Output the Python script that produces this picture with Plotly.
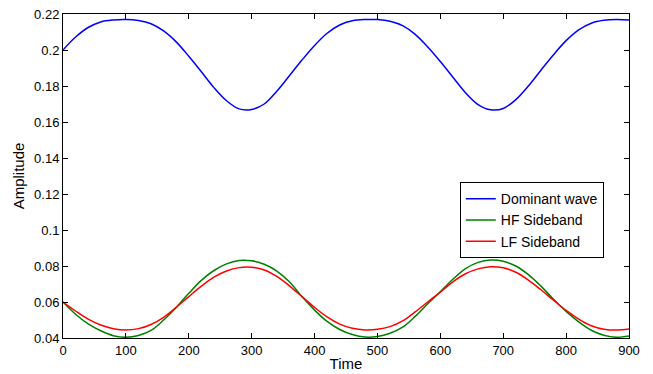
import plotly.graph_objects as go

time = list(range(0, 901, 20))

dominant = [0.2000, 0.2072, 0.2125, 0.2156, 0.2167, 0.2170, 0.2164, 0.2146, 0.2106, 0.2045,
            0.1965, 0.1879, 0.1791, 0.1718, 0.1673, 0.1670, 0.1700, 0.1771, 0.1857, 0.1944,
            0.2025, 0.2093, 0.2139, 0.2162, 0.2169, 0.2169, 0.2160, 0.2135, 0.2087, 0.2017,
            0.1936, 0.1849, 0.1763, 0.1697, 0.1668, 0.1675, 0.1724, 0.1800, 0.1888, 0.1974,
            0.2052, 0.2112, 0.2149, 0.2165, 0.2170, 0.2167]

hf_sideband = [0.0600, 0.0532, 0.0478, 0.0440, 0.0413, 0.0404, 0.0414, 0.0442, 0.0500, 0.0570,
               0.0648, 0.0720, 0.0775, 0.0812, 0.0831, 0.0829, 0.0810, 0.0772, 0.0712, 0.0630,
               0.0555, 0.0492, 0.0447, 0.0419, 0.0405, 0.0408, 0.0426, 0.0460, 0.0520, 0.0590,
               0.0657, 0.0726, 0.0785, 0.0820, 0.0833, 0.0826, 0.0800, 0.0752, 0.0688, 0.0615,
               0.0548, 0.0490, 0.0443, 0.0415, 0.0404, 0.0411]

lf_sideband = [0.0600, 0.0550, 0.0505, 0.0472, 0.0452, 0.0444, 0.0452, 0.0475, 0.0515, 0.0570,
               0.0630, 0.0688, 0.0738, 0.0772, 0.0791, 0.0793, 0.0778, 0.0742, 0.0690, 0.0630,
               0.0570, 0.0517, 0.0477, 0.0454, 0.0445, 0.0448, 0.0463, 0.0495, 0.0545, 0.0600,
               0.0655, 0.0712, 0.0757, 0.0784, 0.0796, 0.0790, 0.0765, 0.0722, 0.0668, 0.0610,
               0.0553, 0.0505, 0.0468, 0.0449, 0.0444, 0.0450]

x_ticks = list(range(0, 901, 100))
y_ticks = [0.04, 0.06, 0.08, 0.1, 0.12, 0.14, 0.16, 0.18, 0.2, 0.22]
y_tick_labels = ["0.04", "0.06", "0.08", "0.1", "0.12", "0.14", "0.16", "0.18", "0.2", "0.22"]

font = "Liberation Sans, Arial, Helvetica, sans-serif"

fig = go.Figure()
fig.add_trace(go.Scatter(x=time, y=dominant, mode="lines", name="Dominant wave",
                         line=dict(color="#0000FF", width=1.5, shape="spline", smoothing=1)))
fig.add_trace(go.Scatter(x=time, y=hf_sideband, mode="lines", name="HF Sideband",
                         line=dict(color="#008000", width=1.5, shape="spline", smoothing=1)))
fig.add_trace(go.Scatter(x=time, y=lf_sideband, mode="lines", name="LF Sideband",
                         line=dict(color="#FF0000", width=1.5, shape="spline", smoothing=1)))

axis_common = dict(showline=True, linecolor="black", linewidth=1, mirror="ticks",
                   ticks="inside", ticklen=5, tickcolor="black", showgrid=False,
                   zeroline=False, automargin=False,
                   tickfont=dict(family=font, size=13, color="black"))

fig.update_layout(
    width=653, height=374,
    paper_bgcolor="white", plot_bgcolor="white",
    margin=dict(l=63, r=24, t=14, b=36),
    font=dict(family=font, size=13, color="black"),
    xaxis=dict(range=[0, 900], tickvals=x_ticks,
               title=dict(text="Time", standoff=1, font=dict(family=font, size=15)),
               **axis_common),
    yaxis=dict(range=[0.04, 0.22], tickvals=y_ticks, ticktext=y_tick_labels,
               title=dict(text="Amplitude", standoff=5, font=dict(family=font, size=15)),
               **axis_common),
    legend=dict(x=0.701, y=0.481, xanchor="left", yanchor="top",
                bgcolor="white", bordercolor="black", borderwidth=1,
                font=dict(family=font, size=14), tracegroupgap=0,
                itemwidth=30),
    showlegend=True,
)

fig.write_html("out.html",
               config={"displayModeBar": False},
               post_script="document.body.style.margin='0';document.body.style.overflow='hidden';")
